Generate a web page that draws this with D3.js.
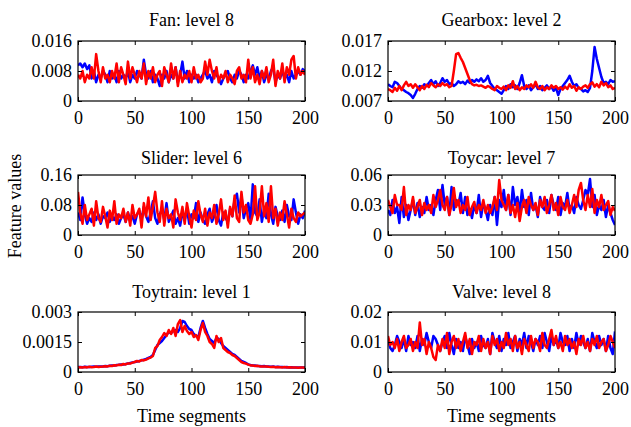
<!DOCTYPE html>
<meta charset="utf-8">
<style>

body {
  margin: 0;
  background: #fff;
}

text {
  font-family: "Liberation Serif", "Times New Roman", serif;
  fill: #000;
}

.frame {
  fill: none;
  stroke: #000;
  stroke-width: 1.2;
}

.axis path {
  display: none;
}

.axis line {
  stroke: #000;
}

.axis text {
  font-size: 18px;
}

.title {
  font-size: 18px;
  text-anchor: middle;
}

.series {
  fill: none;
  stroke-width: 2.5;
  stroke-linejoin: round;
}

</style>
<svg width="631" height="427"></svg>

<script src="https://d3js.org/d3.v7.min.js"></script>

<script>

// all feature values below are in units of 1e-3, one point every 2 time segments
var fanBlue = [9.5,10,9,10,8.5,9.5,6,8,5,7,6,8,7,5,8,6,7,5,8,6,7,6,8,5,7,6,8,7,6,11,7,6,8,5,7,6,4,7,6,8,5,7,6,9,5,7,10.5,6,8,5,7,6,7,5,6,7,8,6,7,5,8,7,6,4.5,6,7,8,6,5,7,6,8,7,5,7,6,8,9.5,7,9,6,8,5,7,6,8,9,5,7,6,8,6,7,5,8,6,7,8,7,8.5,8];
var fanRed = [7,6,8,5,7,6,9,6,12.5,8,5,9,6,7,5,8,6,10,5,9,7,4.5,10.5,6,9,7,5,8,6,10,4.5,8,6,9,5,7,8,4,9,7,5,10,6,9,4,8,5,7,6,8,5,9,6,7,5,6,10.5,7,11,8,6,9,5,7,6,8,5,7,6,4.5,8,9,6,7,5,11,6,9,5,7,4.5,8,6,9,5,7,11,4,8,6,10,5,9,7,11,12,6,9,7,8,7];

var gearBlue = [9.8,9.5,9.3,10.2,10,9.5,9,8.8,8.5,8.3,8,7.5,8.2,9,9.5,9.2,9.8,9.5,10,10.5,9.8,10.3,9.5,10,10.8,10.2,10.5,9.8,10,9.5,9.8,10.3,10,10.2,9.8,10.4,10,10.5,10.2,10.6,10.3,10.8,10.2,10.5,11.2,10,9.5,9,8.8,8.5,8.2,8.8,9.5,9,9.8,9.3,9.6,9,10,11.3,9.5,9,9.6,8.8,9.3,9.8,9,9.5,8.8,9.2,9.6,9,9.4,8.7,9.2,8,9,9.5,10,10.5,11.2,10.2,9.5,9.8,9.2,9,8.6,8.8,8.5,9.2,12,16,14,12.5,11,10,10.2,9.8,10.5,10.2,10.3];
var gearRed = [9,8.8,8.5,9.2,8.7,9.5,8.8,9.6,10.2,9.5,9.8,9.2,9.8,9.3,8.8,9.5,9,9.7,9.3,10,9.6,9.3,9.8,9.5,10,9.6,9.8,9.3,9.5,12,14.8,15,14.2,13.5,12.5,11.5,10.5,9.8,9.6,9.7,9.5,9.6,9.4,9.2,9.5,9.3,9,8.8,9.5,9.2,9,9.4,8.8,9.6,9.2,10.3,9,9.5,8.8,9.3,9,9.6,9.3,9.8,9.2,10.2,9.3,9,9.5,8.8,9.3,9,9.6,9.2,9.5,9,9.3,8.9,9.4,9,9.8,9.2,9.5,8.7,9.3,9,9.4,9.6,9.2,9.8,10.1,9.4,9.8,9.3,10.2,9.6,10,9.3,9.6,9,9.2];

var sliderBlue = [60,40,100,55,30,45,35,60,40,55,30,50,45,60,35,50,40,55,30,45,55,35,60,40,50,30,55,65,40,75,50,35,60,90,45,30,55,70,40,85,35,50,65,30,45,25,60,40,70,30,55,45,85,35,60,40,30,55,70,35,50,80,40,25,60,45,35,70,50,95,110,60,105,45,70,85,40,135,60,50,95,35,70,45,110,55,30,75,50,40,65,35,80,50,40,95,60,30,55,45,65];
var sliderRed = [115,60,30,80,40,55,70,25,90,45,35,75,50,20,65,40,90,30,55,45,70,35,60,25,80,45,55,70,20,85,50,100,40,75,115,60,35,90,25,70,45,55,20,95,60,40,75,30,85,50,20,65,40,90,55,35,70,25,60,45,80,30,55,95,40,65,20,75,50,105,45,35,115,60,80,40,30,55,130,40,60,130,50,85,35,130,45,70,25,60,40,90,55,20,70,45,35,60,50,55,60];

var toycarBlue = [25,20,35,22,28,12,38,18,30,15,25,35,20,32,18,28,22,38,25,30,20,35,45,25,50,30,38,20,48,25,35,30,42,22,38,20,26,17,30,22,40,18,32,25,15,30,20,38,10,35,28,45,25,40,20,48,30,38,22,45,28,35,20,42,25,30,18,38,28,25,35,22,40,30,25,38,20,32,28,42,25,30,22,38,30,26,35,45,40,56,28,40,20,30,25,35,18,30,22,15,10];
var toycarRed = [35,28,22,40,30,30,25,48,20,30,25,38,22,28,35,20,32,25,30,22,40,28,35,45,30,25,38,20,30,47,28,35,22,30,25,38,20,28,33,22,30,25,35,22,30,22,28,38,25,55,35,30,25,40,22,30,18,32,14,28,35,22,38,30,25,32,20,35,28,38,22,30,40,25,32,20,38,28,25,35,22,30,40,28,45,52,35,25,40,28,46,22,35,28,40,25,30,34,20,28,24];

var trainBlue = [0.25,0.25,0.24,0.26,0.25,0.25,0.26,0.27,0.26,0.28,0.27,
  0.28,0.3,0.29,0.31,0.33,0.32,0.35,0.36,0.38,0.37,
  0.4,0.42,0.45,0.48,0.5,0.52,0.55,0.58,0.62,0.65,
  0.7,0.75,0.85,1.1,1.35,1.45,1.55,1.7,1.85,2.0,
  1.95,2.05,2.1,2.0,2.2,2.55,2.5,2.3,2.15,2.1,
  1.9,1.8,1.75,2.2,2.55,2.2,1.9,1.65,1.55,1.45,
  1.7,1.65,1.45,1.3,1.2,1.1,1.0,0.9,0.85,0.75,
  0.65,0.55,0.5,0.45,0.38,0.35,0.33,0.32,0.3,0.3,
  0.29,0.3,0.28,0.27,0.26,0.27,0.25,0.26,0.25,0.25,
  0.24,0.25,0.23,0.24,0.23,0.22,0.23,0.22,0.22,0.22];
var trainRed = [0.22,0.24,0.22,0.25,0.23,0.26,0.24,0.25,0.27,0.25,0.26,
  0.27,0.29,0.28,0.31,0.3,0.34,0.33,0.36,0.35,0.4,
  0.38,0.43,0.42,0.47,0.5,0.55,0.52,0.6,0.58,0.62,
  0.68,0.72,0.8,1.2,1.3,1.6,1.75,1.95,1.8,2.1,
  1.9,2.2,1.8,2.4,2.6,2.0,2.3,2.05,1.9,2.0,
  1.75,1.85,1.6,2.1,2.45,2.0,1.8,1.5,1.4,1.2,
  1.8,1.5,1.7,1.2,1.1,1.0,0.95,0.85,0.8,0.7,
  0.6,0.5,0.45,0.42,0.37,0.33,0.32,0.3,0.31,0.28,
  0.28,0.27,0.28,0.26,0.25,0.26,0.24,0.25,0.24,0.23,
  0.25,0.23,0.24,0.22,0.23,0.22,0.21,0.22,0.22,0.21];

var valveBlue = [11,8,7,9,12,10,8,11,7,12,9,10,8,12,7,11,9,13,10,8,12,11,9,7,10,12,8,13,9,6,11,8,10,7,12,9,6,11,8,10,7,12,9,8,11,6,13,10,8,12,7,11,9,13,8,10,12,7,11,9,13,8,12,10,7,11,9,12,8,13,10,7,12,9,11,8,13,10,9,12,7,11,8,13,9,12,10,8,11,7,13,10,8,12,9,11,7,12,8,6,13.5];
var valveRed = [12,9,10,8,11,7,10,12,8,9,11,7,10,8,16.5,9,11,6,10,8,5,4,9,7,11,8,13,6,10,12,8,11,7,10,13,8,11,6,10,9,12,7,11,8,10,6,12,9,11,7,10,8,13,9,11,7,12,8,10,6,11,9,7,12,8,11,10,7,13,9,8,11,14,9,12,8,10,7,12,9,11,8,10,6,11,9,12,8,10,7,11,9,12,8,10,11,7,9,12,10,8];

var titles = ["Fan: level 8", "Gearbox: level 2", "Slider: level 6", "Toycar: level 7", "Toytrain: level 1", "Valve: level 8"];
var blueSeries = [fanBlue, gearBlue, sliderBlue, toycarBlue, trainBlue, valveBlue];
var redSeries = [fanRed, gearRed, sliderRed, toycarRed, trainRed, valveRed];
var yTicks = [[0, 8, 16], [7, 12, 17], [0, 80, 160], [0, 30, 60], [0, 1.5, 3], [0, 10, 20]];
var yTickLabels = [["0", "0.008", "0.016"], ["0.007", "0.012", "0.017"], ["0", "0.08", "0.16"],
                   ["0", "0.03", "0.06"], ["0", "0.0015", "0.003"], ["0", "0.01", "0.02"]];
var xTicks = [0, 50, 100, 150, 200];

var svg = d3.select("svg");

var colX = [78, 388],
    rowY = [41, 175, 312],
    titleY = [26, 164, 298],
    pw = 227,
    ph = 60;

var x = d3.scaleLinear().domain([0, 200]).range([0, pw]);

titles.forEach(function(title, i) {
  var col = i % 2, row = Math.floor(i / 2);
  var ticks = yTicks[i], labels = yTickLabels[i];

  var y = d3.scaleLinear().domain([ticks[0], ticks[2]]).range([ph, 0]);

  svg.append("text")
      .attr("class", "title")
      .attr("x", colX[col] + pw / 2)
      .attr("y", titleY[row])
      .text(title);

  var g = svg.append("g")
      .attr("transform", "translate(" + colX[col] + "," + rowY[row] + ")");

  g.append("clipPath")
      .attr("id", "clip" + i)
    .append("rect")
      .attr("width", pw)
      .attr("height", ph);

  var line = d3.line()
      .x(function(d, j, arr) { return x(j * 200 / (arr.length - 1)); })
      .y(function(d) { return y(d); });

  g.append("path")
      .datum(blueSeries[i])
      .attr("class", "series")
      .attr("clip-path", "url(#clip" + i + ")")
      .attr("stroke", "#0000ff")
      .attr("d", line);

  g.append("path")
      .datum(redSeries[i])
      .attr("class", "series")
      .attr("clip-path", "url(#clip" + i + ")")
      .attr("stroke", "#ff0000")
      .attr("d", line);

  g.append("g")
      .attr("class", "axis")
      .attr("transform", "translate(0," + ph + ")")
      .call(d3.axisBottom(x).tickValues(xTicks).tickSize(-4).tickPadding(10));

  g.append("g")
      .attr("class", "axis")
      .call(d3.axisTop(x).tickValues(xTicks).tickSize(-4).tickFormat(""));

  g.append("g")
      .attr("class", "axis")
      .call(d3.axisLeft(y).tickValues(ticks).tickSize(-4).tickPadding(6)
        .tickFormat(function(d, k) { return labels[k]; }));

  g.append("g")
      .attr("class", "axis")
      .attr("transform", "translate(" + pw + ",0)")
      .call(d3.axisRight(y).tickValues(ticks).tickSize(-4).tickFormat(""));

  g.append("rect")
      .attr("class", "frame")
      .attr("width", pw)
      .attr("height", ph);
});

svg.append("text")
    .attr("class", "title")
    .attr("transform", "translate(21,206) rotate(-90)")
    .text("Feature values");

colX.forEach(function(cx) {
  svg.append("text")
      .attr("class", "title")
      .attr("x", cx + pw / 2)
      .attr("y", 422)
      .text("Time segments");
});

</script>
